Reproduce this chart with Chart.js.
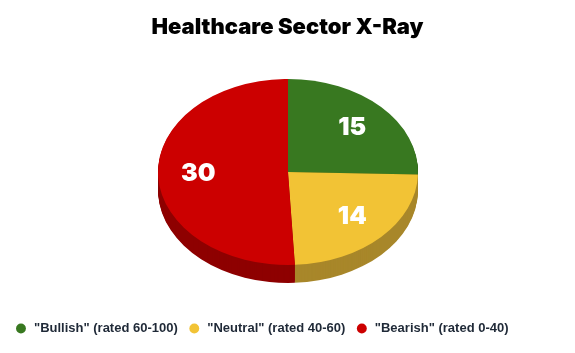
<!DOCTYPE html>
<html><head><meta charset="utf-8">
<script src="https://cdn.jsdelivr.net/npm/chart.js@4/dist/chart.umd.min.js"></script>
<style>html,body{margin:0;padding:0;background:#fff}#wrap{width:575px;height:353px}</style>
</head><body><div id="wrap"><canvas id="c" width="575" height="353"></canvas></div>
<script>
const categories = ['"Bullish" (rated 60-100)', '"Neutral" (rated 40-60)', '"Bearish" (rated 0-40)'];
const counts = [15, 14, 30];
const topColors = ['#387820', '#f2c335', '#cc0000'];
const sideColors = ['#24500f', '#a8872a', '#8e0000'];

const PIE = {cx: 288, cy: 172, rx: 130, ry: 93, depth: 18, labelFrac: 0.69};
const k = PIE.ry / PIE.rx;

const pie3d = {
  id: 'pie3d',
  afterLayout(chart) {
    const lg = chart.legend;
    if (lg) { lg.left -= 26; lg.right -= 26; }
  },
  afterDatasetsUpdate(chart) {
    const meta = chart.getDatasetMeta(0);
    meta.data.forEach(a => { a.x = PIE.cx; a.y = PIE.cy; a.outerRadius = PIE.rx; a.innerRadius = 0; });
  },
  beforeDatasetsDraw(chart) {
    const ctx = chart.ctx;
    const meta = chart.getDatasetMeta(0);
    for (let d = PIE.depth; d >= 1; d--) {
      meta.data.forEach((a, i) => {
        ctx.save();
        ctx.translate(0, d);
        ctx.translate(0, PIE.cy * (1 - k));
        ctx.scale(1, k);
        ctx.beginPath();
        ctx.moveTo(a.x, a.y);
        ctx.arc(a.x, a.y, a.outerRadius, a.startAngle, a.endAngle);
        ctx.closePath();
        ctx.fillStyle = sideColors[i];
        ctx.fill();
        ctx.restore();
      });
    }
    ctx.save();
    ctx.translate(0, PIE.cy * (1 - k));
    ctx.scale(1, k);
  },
  afterDatasetsDraw(chart) {
    const ctx = chart.ctx;
    ctx.restore();
    const meta = chart.getDatasetMeta(0);
    ctx.save();
    ctx.fillStyle = '#ffffff';
    ctx.font = '900 25px Inter, "Liberation Sans", sans-serif';
    ctx.textAlign = 'center';
    ctx.textBaseline = 'middle';
    meta.data.forEach((a, i) => {
      const mid = (a.startAngle + a.endAngle) / 2;
      const r = a.outerRadius * PIE.labelFrac;
      const x = a.x + Math.cos(mid) * r;
      const y = PIE.cy + Math.sin(mid) * r * k;
      ctx.fillText(String(counts[i]), x, y);
    });
    ctx.restore();
  }
};

new Chart(document.getElementById('c'), {
  type: 'pie',
  data: {
    labels: categories,
    datasets: [{ data: counts, backgroundColor: topColors, borderWidth: 0 }]
  },
  options: {
    responsive: false,
    animation: false,
    layout: { padding: { top: 10, bottom: 8 } },
    plugins: {
      title: {
        display: true,
        text: 'Healthcare Sector X-Ray',
        color: '#000000',
        font: { family: 'Inter, "Liberation Sans", sans-serif', size: 22, weight: '900' },
        padding: { top: 4, bottom: 10 }
      },
      legend: {
        position: 'bottom',
        labels: {
          usePointStyle: true,
          pointStyle: 'circle',
          boxWidth: 13,
          boxHeight: 7,
          padding: 10,
          color: '#1f2937',
          font: { family: '"Liberation Sans", Arial, sans-serif', size: 13, weight: 'bold' }
        }
      },
      tooltip: { enabled: false }
    }
  },
  plugins: [pie3d]
});
</script></body></html>
